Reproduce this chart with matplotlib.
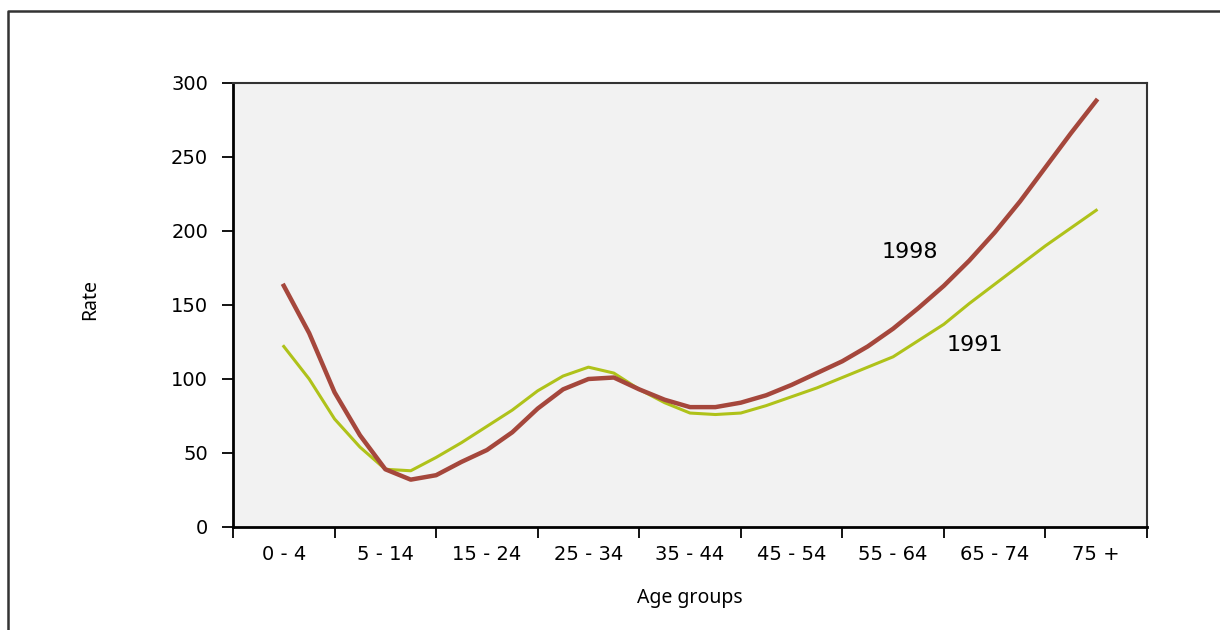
import numpy as np
import matplotlib.pyplot as plt
from matplotlib.lines import Line2D

plt.rcParams['font.family'] = ['DejaVu Sans']

age_groups = ['0 - 4', '5 - 14', '15 - 24', '25 - 34', '35 - 44',
              '45 - 54', '55 - 64', '65 - 74', '75 +']

# curve sampled every quarter of an age group, from the centre of "0 - 4" to the centre of "75 +"
x_pos = np.arange(0, 8.01, 0.25)
rate_1998 = [163, 131, 91, 62, 39, 32, 35, 44, 52, 64, 80, 93, 100, 101, 93, 86, 81,
             81, 84, 89, 96, 104, 112, 122, 134, 148, 163, 180, 199, 220, 243, 266, 288]
rate_1991 = [122, 100, 73, 54, 39, 38, 47, 57, 68, 79, 92, 102, 108, 104, 93, 84, 77,
             76, 77, 82, 88, 94, 101, 108, 115, 126, 137, 151, 164, 177, 190, 202, 214]

y_ticks = [0, 50, 100, 150, 200, 250, 300]

fig = plt.figure(figsize=(12.2, 6.3), dpi=100)
ax = fig.add_axes([233 / 1220, 1 - 527 / 630, (1147 - 233) / 1220, (527 - 83) / 630])
ax.set_facecolor('#f2f2f2')

ax.plot(x_pos, rate_1991, color='#afc21a', lw=2.2, solid_joinstyle='round')
ax.plot(x_pos, rate_1998, color='#a5473c', lw=3.2, solid_joinstyle='round')

ax.text(6.16, 186, '1998', fontsize=16, ha='center', va='center')
ax.text(6.80, 123, '1991', fontsize=16, ha='center', va='center')

ax.set_xlim(-0.5, 8.5)
ax.set_ylim(0, 300)
ax.set_yticks(y_ticks)
ax.set_xticks(np.arange(-0.5, 8.6, 1))
ax.set_xticklabels([])
ax.set_xticks(np.arange(9), minor=True)
ax.set_xticklabels(age_groups, minor=True)
ax.tick_params(axis='x', which='minor', length=0, pad=13, labelsize=14)
ax.tick_params(axis='x', which='major', length=8, width=1.3, direction='out')
ax.tick_params(axis='y', length=8, width=1.3, direction='out', pad=10, labelsize=14)

for side in ['left', 'bottom']:
    ax.spines[side].set_color('black')
    ax.spines[side].set_linewidth(2)
for side in ['top', 'right']:
    ax.spines[side].set_color('#333333')
    ax.spines[side].set_linewidth(1.5)

fig.text(90 / 1220, 1 - 300 / 630, 'Rate', rotation=90, ha='center', va='center',
         fontsize=14, family='Noto Sans')
fig.text(690 / 1220, 1 - 598 / 630, 'Age groups', ha='center', va='center',
         fontsize=14, family='Noto Sans')

# outer frame, only top and left edges are inside the picture
top = 1 - 11 / 630
left = 8 / 1220
fig.add_artist(Line2D([left, left, 1], [0, top, top], transform=fig.transFigure,
                      color='#333333', lw=1.8))

fig.savefig('out.png', dpi=100)
